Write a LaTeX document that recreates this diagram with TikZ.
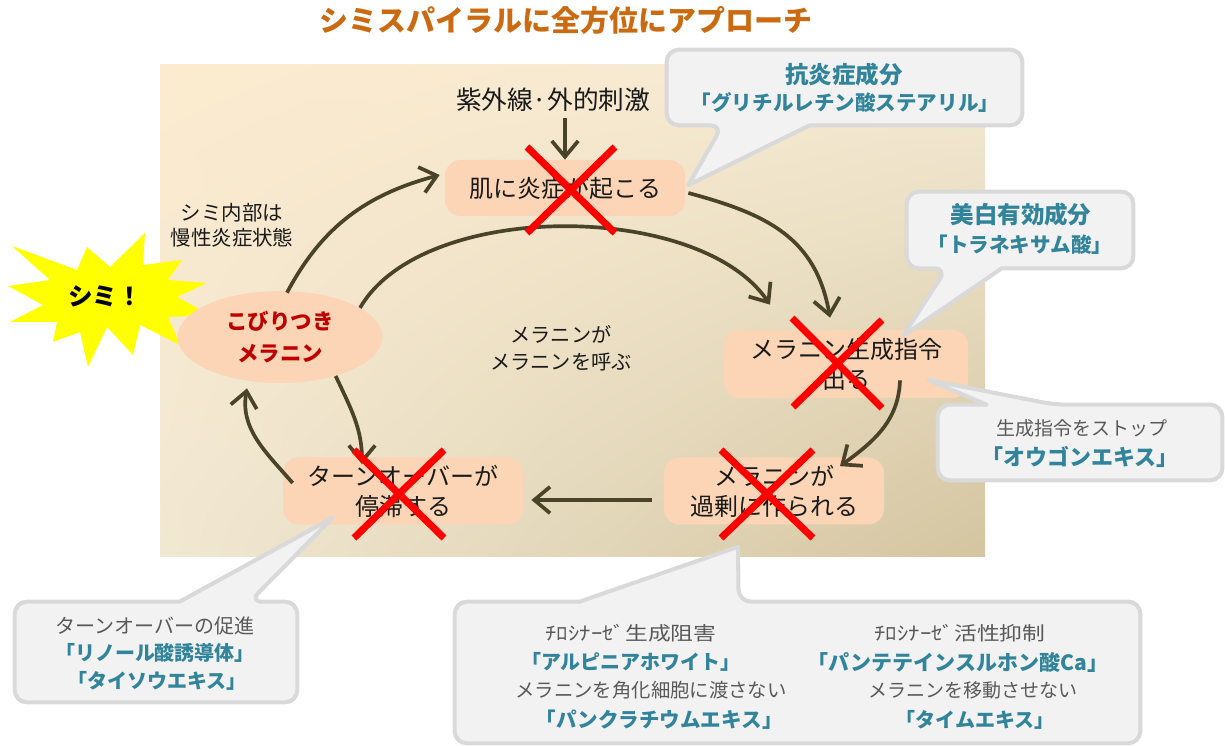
\documentclass[tikz,border=0pt]{standalone}
\usepackage{fontspec}
\setmainfont{Noto Sans CJK JP}
\usetikzlibrary{calc,arrows.meta,shapes.geometric,shadings}
\definecolor{arrowc}{HTML}{494429}
\definecolor{nodefill}{HTML}{FBD5B5}
\definecolor{crossred}{HTML}{FF0000}
\definecolor{tealc}{HTML}{31849B}
\definecolor{grayt}{HTML}{595959}
\definecolor{callfill}{HTML}{F2F2F2}
\definecolor{callline}{HTML}{D9D9D9}
\definecolor{titlec}{HTML}{CC6A12}
\definecolor{redt}{HTML}{C00000}
\definecolor{bgUL}{HTML}{FCEBCF}
\definecolor{bgUR}{HTML}{F4EAD4}
\definecolor{bgLL}{HTML}{F1E8D3}
\definecolor{bgLR}{HTML}{D4C5A0}
\definecolor{burstc}{HTML}{FFFF00}
\definecolor{textc}{HTML}{1A1A1A}
\newdimen\pxu \pxu=0.02cm
\pgfdeclarelayer{back}\pgfdeclarelayer{callbg}\pgfdeclarelayer{front}
\pgfsetlayers{back,main,callbg,front}
\newcommand\fs[2]{\fontsize{#1}{#2}\selectfont}
\begin{document}
\begin{tikzpicture}[x=0.02cm, y=-0.02cm,
  proc/.style={rectangle, rounded corners=9pt, fill=nodefill, inner sep=0pt, align=center, text=textc, font=\fs{13.66}{17.07}},
  arr/.style={draw=arrowc, line width=2.1pt, -{Straight Barb[length=9pt,width=15pt]}},
  xline/.style={draw=crossred, line width=4pt},
  callshape/.style={fill=callfill, draw=callline, line width=2.3pt, line join=round},
  cbox/.style={rectangle, inner sep=0pt, draw=none},
  plain/.style={inner sep=0pt, align=center, text=textc},
  hdr/.style={inner sep=0pt, text=tealc, font=\fs{13.37}{16}\bfseries},
  brk/.style={inner sep=0pt, text=tealc, font=\fs{11.7}{14}\bfseries},
  gtx/.style={inner sep=0pt, text=grayt, font=\fs{11.04}{14}}
]
\useasboundingbox (0,0) rectangle (1225,746);

% background panel
\begin{pgfonlayer}{back}
\shade[upper left=bgUL, upper right=bgUR, lower left=bgLL, lower right=bgLR] (160,65) rectangle (985,557);
\end{pgfonlayer}

% title
\node[inner sep=0pt, text=titlec, font=\fs{16.5}{20}\bfseries] (title) at (566,20) {シミスパイラルに全方位にアプローチ};

% burst
\fill[burstc] (12,246) -- (77,270) -- (87,247) -- (110,267) -- (145,233) -- (143,265) -- (182,260) -- (168,280) -- (207,283) -- (177,297) -- (210,315) -- (168,317) -- (180,345) -- (140,325) -- (133,355) -- (107,327) -- (88,367) -- (80,332) -- (53,342) -- (57,322) -- (10,322) -- (43,305) -- (8,286) -- (50,280) -- cycle;
\node[inner sep=0pt, font=\fs{14}{16}\bfseries] (S) at (105,296) {シミ！};

% process nodes
\node[proc, minimum width=240\pxu, minimum height=56\pxu] (A) at (565,188) {肌に炎症が起こる};
\node[proc, minimum width=244\pxu, minimum height=68\pxu] (B) at (846,364) {メラニン生成指令\\出る};
\node[proc, minimum width=220\pxu, minimum height=67\pxu] (C) at (774,491) {メラニンが\\過剰に作られる};
\node[proc, minimum width=240\pxu, minimum height=67\pxu] (D) at (403,491) {ターンオーバーが\\停滞する};
\node[ellipse, fill=nodefill, inner sep=0pt, minimum width=205\pxu, minimum height=92\pxu, align=center, text=redt, font=\fs{12.2}{18.2}\bfseries] (E) at (280,337) {こびりつき\\メラニン};

% free texts
\node[plain, font=\fs{14.6}{17}, inner sep=3pt] (U) at (553,100) {紫外線·外的刺激};
\node[plain, font=\fs{11.66}{14.2}] (T1) at (232,225) {シミ内部は\\慢性炎症状態};
\node[plain, font=\fs{11.5}{15.4}] (T2) at (561,348) {メラニンが\\メラニンを呼ぶ};

% connectors
\draw[arr] (U.south -| A.north) -- (A.north);
\draw[arr] ($(E.north)+(7,2)$) to[out=62,in=195] ($(A.west)+(-5,-13)$);
\draw[arr] (E.20) to[out=60,in=124,looseness=0.78] ($(B.north)+(-76,-25)$);
\draw[arr] ($(A.east)+(3,5)$) to[out=-15,in=100,looseness=1.1] ($(B.north)+(-16,-12)$);
\draw[arr] ($(B.south)+(54,-18)$) to[out=-92,in=36] ($(C.north)+(66,9)$);
\draw[arr] ($(C.west)+(-12,9)$) -- ($(D.east)+(8,9)$);
\draw[arr] ($(D.west)+(10,-8)$) to[out=131,in=260] ($(E.south)+(-33,5)$);
\draw[arr] (E.-35) to[out=-65,in=90] ($(D.north)+(-41,7)$);

% crosses
\draw[xline] ($(A.center)+(-38,-41)$) -- ($(A.center)+(50,45)$);
\draw[xline] ($(A.center)+(50,-41)$) -- ($(A.center)+(-38,45)$);
\draw[xline] ($(B.center)+(-54,-46)$) -- ($(B.center)+(36,44)$);
\draw[xline] ($(B.center)+(36,-44)$) -- ($(B.center)+(-53,43)$);
\draw[xline] ($(C.center)+(-53,-41)$) -- ($(C.center)+(39,47)$);
\draw[xline] ($(C.center)+(39,-41)$) -- ($(C.center)+(-53,47)$);
\draw[xline] ($(D.center)+(-49,-41)$) -- ($(D.center)+(41,47)$);
\draw[xline] ($(D.center)+(41,-41)$) -- ($(D.center)+(-49,47)$);

% callouts (front layer texts, boxes on callbg)
\begin{pgfonlayer}{front}
\node[cbox, minimum width=355\pxu, minimum height=75\pxu] (K1) at (844.5,87.5) {};
\node[hdr] (K1a) at (844,75) {抗炎症成分};
\node[brk] (K1b) at (845,103) {「グリチルレチン酸ステアリル」};

\node[cbox, minimum width=226\pxu, minimum height=76\pxu] (K2) at (1020,230) {};
\node[hdr] (K2a) at (1021,215) {美白有効成分};
\node[brk] (K2b) at (1020,245) {「トラネキサム酸」};

\node[cbox, minimum width=284\pxu, minimum height=75\pxu] (K3) at (1080,442.5) {};
\node[gtx, font=\fs{10.81}{13}] (K3a) at (1082,428) {生成指令をストップ};
\node[brk, font=\fs{12.52}{15}\bfseries] (K3b) at (1080,457) {「オウゴンエキス」};

\node[cbox, minimum width=282\pxu, minimum height=100\pxu] (K4) at (156,652) {};
\node[gtx, font=\fs{11.38}{14}] (K4a) at (155,626) {ターンオーバーの促進};
\node[brk, font=\fs{11.38}{14}\bfseries] (K4b) at (155,653) {「リノール酸誘導体」};
\node[brk, font=\fs{11.38}{14}\bfseries] (K4c) at (157,681) {「タイソウエキス」};

\node[cbox, minimum width=685\pxu, minimum height=141\pxu] (K5) at (797.5,672.5) {};
\node[gtx, font=\fs{10.81}{13}] (K5a) at (631,633) {\scalebox{1.2}[1]{ﾁﾛｼﾅｰｾﾞ生成阻害}};
\node[brk, font=\fs{11.38}{14}\bfseries] (K5b) at (631,662) {「アルピニアホワイト」};
\node[gtx] (K5c) at (651,690) {メラニンを角化細胞に渡さない};
\node[brk] (K5d) at (659,720) {「パンクラチウムエキス」};
\node[gtx, font=\fs{10.81}{13}] (K5e) at (960,633) {\scalebox{1.2}[1]{ﾁﾛｼﾅｰｾﾞ活性抑制}};
\node[brk, font=\fs{11.95}{14}\bfseries] (K5f) at (958,662) {「パンテテインスルホン酸Ca」};
\node[gtx, font=\fs{10.81}{13}] (K5g) at (973,690) {メラニンを移動させない};
\node[brk, font=\fs{11.38}{14}\bfseries] (K5h) at (975,720) {「タイムエキス」};
\end{pgfonlayer}

\begin{pgfonlayer}{callbg}
\draw[callshape] ($(K1.south west)+(56,0)$) -- ($(A.east)+(3,-3)$) -- ($(K1.south west)+(143,0)$) [rounded corners=7pt] -- (K1.south east) -- (K1.north east) -- (K1.north west) -- (K1.south west) -- cycle;
\draw[callshape] ($(K2.south west)+(40,0)$) -- ($(B.north east)+(-65,6)$) -- ($(K2.south west)+(95,0)$) [rounded corners=7pt] -- (K2.south east) -- (K2.north east) -- (K2.north west) -- (K2.south west) -- cycle;
\draw[callshape] ($(K3.north west)+(117,0)$) -- ($(B.east)+(-40,16)$) -- ($(K3.north west)+(49,0)$) [rounded corners=7pt] -- (K3.north west) -- (K3.south west) -- (K3.south east) -- (K3.north east) -- cycle;
\draw[callshape] ($(K4.north west)+(235,0)$) -- ($(D.south west)+(50,-7)$) -- ($(K4.north west)+(165,0)$) [rounded corners=7pt] -- (K4.north west) -- (K4.south west) -- (K4.south east) -- (K4.north east) -- cycle;
\draw[callshape] ($(K5.north west)+(284,0)$) -- ($(C.south)+(-36,22)$) -- ($(K5.north west)+(125,0)$) [rounded corners=7pt] -- (K5.north west) -- (K5.south west) -- (K5.south east) -- (K5.north east) -- cycle;
\end{pgfonlayer}
\end{tikzpicture}
\end{document}
